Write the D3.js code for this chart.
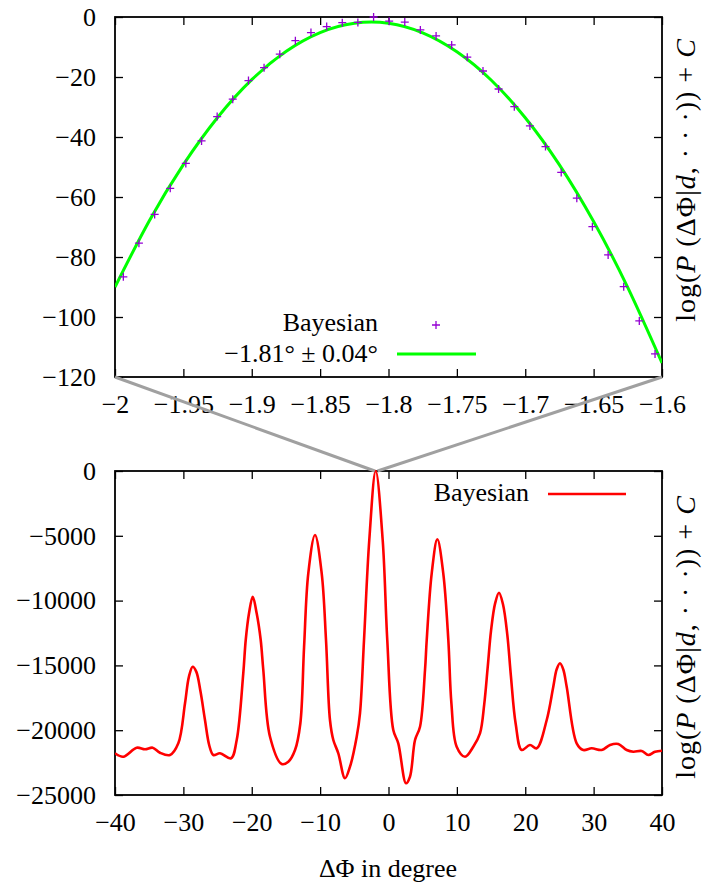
<!DOCTYPE html>
<html>
<head>
<meta charset="utf-8">
<script src="https://cdn.jsdelivr.net/npm/d3@7"></script>
<style>
  body { margin: 0; background: #fff; }
  text { font-family: "Liberation Serif", serif; font-size: 26px; fill: #000; }
</style>
</head>
<body>
<svg id="chart" width="704" height="886"></svg>
<script>
// zoomed panel: Bayesian points
var zoomPointX = [-1.9939, -1.9825, -1.9710, -1.9596, -1.9482, -1.9367, -1.9253, -1.9139, -1.9024,
    -1.8910, -1.8795, -1.8681, -1.8567, -1.8452, -1.8338, -1.8224, -1.8109, -1.7995, -1.7881,
    -1.7767, -1.7652, -1.7538, -1.7424, -1.7309, -1.7195, -1.7080, -1.6966, -1.6852, -1.6737,
    -1.6623, -1.6509, -1.6394, -1.6280, -1.6166, -1.6051];
var zoomPointY = [-86.6, -75.4, -65.8, -57.1, -48.8, -41.3, -33.2, -27.4, -21.2,
    -16.9, -12.4, -7.9, -5.2, -3.2, -1.9, -1.8, 0, -1.4, -1.7,
    -4.3, -6.3, -9.3, -13.4, -18.0, -24.0, -29.9, -36.3, -43.2, -51.8,
    -60.4, -69.9, -79.3, -89.9, -101.3, -112.3];

// zoomed panel: fitted curve
var fitX = [-2.0, -1.975, -1.95, -1.925, -1.9, -1.875, -1.85, -1.825, -1.8, -1.775, -1.75,
    -1.725, -1.7, -1.675, -1.65, -1.625, -1.6];
var fitY = [-90.0, -68.0, -49.2, -33.5, -20.9, -11.5, -5.2, -2.1, -2.1, -5.3, -11.6,
    -21.0, -33.6, -49.3, -68.2, -90.2, -115.3];

// full panel: Bayesian curve
var fullX = [-40.00, -38.79, -36.83, -35.61, -34.49, -33.42, -31.96, -30.74, -29.76, -29.2, -28.64,
    -28.1, -27.5, -26.84, -26.2, -25.62, -24.64, -23.03, -22.20, -21.24, -20.88, -20.40, -19.86, -19.28,
    -18.69, -18.31, -17.33, -15.62, -14.65, -13.67, -12.9, -12.35, -11.73, -10.75, -9.77, -9.14,
    -8.56, -8.07, -7.34, -6.36, -5.63, -4.65, -4.17, -3.58, -2.81, -1.87, -0.85, -0.18, 0.70,
    1.43, 2.56, 3.14, 3.88, 4.61, 5.34, 5.59, 6.32, 7.14, 8.01, 8.75, 9.2, 9.97, 11.19, 12.40,
    13.38, 14.0, 14.5, 15.0, 15.6, 16.16, 16.75, 17.37, 17.9, 18.6, 19.48, 20.69, 21.67, 23.14, 24.10,
    24.6, 25.08, 25.55, 26.06, 27.52, 28.49, 29.72, 31.18, 32.40, 33.61, 34.84, 35.80, 37.03, 38.00, 38.98, 40.00];
var fullY = [-21782, -22045, -21350, -21474, -21350, -21736, -21913, -21011, -17924, -15900, -15100,
    -15500, -17000, -19213, -21200, -21913, -21782, -22168, -20756, -15610, -13040, -10980, -9699, -10980,
    -13040, -15355, -20502, -22608, -22430, -21528, -19500, -13600, -7894, -4938, -7894, -13040,
    -19213, -20756, -21782, -23711, -22816, -20502, -18696, -13040, -5324, 0, -5324, -13040, -19985,
    -21011, -24097, -23588, -20756, -19730, -15355, -13040, -7894, -5270, -7894, -13040, -17924, -21273, -22045, -21273,
    -20239, -18000, -15200, -12300, -10200, -9390, -10300, -12600, -15800, -19500, -21528, -21142, -21397, -19213, -16643,
    -15300, -14838, -15300, -16643, -21011, -21528, -21397, -21528, -21142, -21065, -21528, -21659, -21605, -21913, -21659, -21582];

var zoomXTicks = [-2, -1.95, -1.9, -1.85, -1.8, -1.75, -1.7, -1.65, -1.6];
var zoomYTicks = [0, -20, -40, -60, -80, -100, -120];
var fullXTicks = [-40, -30, -20, -10, 0, 10, 20, 30, 40];
var fullYTicks = [0, -5000, -10000, -15000, -20000, -25000];
var zoomLegend = ["Bayesian", "\u22121.81\u00b0 \u00b1 0.04\u00b0"];
var fullLegend = "Bayesian";
var xTitle = "\u0394\u03a6 in degree";

var svg = d3.select("#chart");
var left = 115, right = 662;
var serif = "'Liberation Serif', serif";

var zoomBox = { top: 17, bottom: 377 };
var fullBox = { top: 471, bottom: 795 };

var zx = d3.scaleLinear().domain([-2, -1.6]).range([left, right]);
var zy = d3.scaleLinear().domain([-120, 0]).range([zoomBox.bottom, zoomBox.top]);
var fx = d3.scaleLinear().domain([-40, 40]).range([left, right]);
var fy = d3.scaleLinear().domain([-25000, 0]).range([fullBox.bottom, fullBox.top]);

var fmt = d3.format("");

function drawFrame(x, y, xTicks, yTicks, box) {
    var g = svg.append("g");
    g.append("g")
        .attr("transform", `translate(0,${box.bottom})`)
        .call(d3.axisBottom(x).tickValues(xTicks).tickSize(-8).tickPadding(18).tickFormat(fmt));
    g.append("g")
        .attr("transform", `translate(0,${box.top})`)
        .call(d3.axisTop(x).tickValues(xTicks).tickSize(-8).tickFormat(""));
    g.append("g")
        .attr("transform", `translate(${left},0)`)
        .call(d3.axisLeft(y).tickValues(yTicks).tickSize(-8).tickPadding(19).tickFormat(fmt));
    g.append("g")
        .attr("transform", `translate(${right},0)`)
        .call(d3.axisRight(y).tickValues(yTicks).tickSize(-8).tickFormat(""));
    g.selectAll(".domain").remove();
    g.selectAll(".tick line").attr("stroke", "#000").attr("stroke-width", 1.3);
    g.selectAll(".tick text").style("font-family", serif).style("font-size", "26px");
    g.append("rect")
        .attr("x", left).attr("y", box.top)
        .attr("width", right - left).attr("height", box.bottom - box.top)
        .attr("fill", "none").attr("stroke", "#000").attr("stroke-width", 1.8);
    return g;
}

drawFrame(zx, zy, zoomXTicks, zoomYTicks, zoomBox);
drawFrame(fx, fy, fullXTicks, fullYTicks, fullBox);

svg.append("clipPath").attr("id", "clipZoom").append("rect")
    .attr("x", left).attr("y", zoomBox.top).attr("width", right - left).attr("height", zoomBox.bottom - zoomBox.top);
svg.append("clipPath").attr("id", "clipFull").append("rect")
    .attr("x", left).attr("y", fullBox.top - 2).attr("width", right - left).attr("height", fullBox.bottom - fullBox.top + 2);

// fit line
var fitLine = d3.line()
    .x((d, i) => zx(fitX[i]))
    .y((d, i) => zy(fitY[i]))
    .curve(d3.curveNatural);
svg.append("path")
    .datum(fitX)
    .attr("clip-path", "url(#clipZoom)")
    .attr("d", fitLine)
    .attr("fill", "none")
    .attr("stroke", "#00ff00")
    .attr("stroke-width", 3);

// Bayesian points as plus marks
var plus = (cx, cy) => `M${cx - 4},${cy}H${cx + 4}M${cx},${cy - 4}V${cy + 4}`;
svg.append("g")
    .selectAll("path")
    .data(zoomPointX)
    .join("path")
    .attr("d", (d, i) => plus(zx(d), zy(zoomPointY[i])))
    .attr("stroke", "#9400d3")
    .attr("stroke-width", 1.3)
    .attr("fill", "none");

// full curve
var fullLine = d3.line()
    .x((d, i) => fx(fullX[i]))
    .y((d, i) => fy(fullY[i]))
    .curve(d3.curveCatmullRom.alpha(0.5));
svg.append("path")
    .datum(fullX)
    .attr("clip-path", "url(#clipFull)")
    .attr("d", fullLine)
    .attr("fill", "none")
    .attr("stroke", "#ff0000")
    .attr("stroke-width", 2.6);

// zoom connector lines
svg.append("g")
    .selectAll("line")
    .data([-2, -1.6])
    .join("line")
    .attr("x1", d => zx(d))
    .attr("y1", zy(-120))
    .attr("x2", d => fx(d))
    .attr("y2", fy(0))
    .attr("stroke", "#a0a0a0")
    .attr("stroke-width", 3);

// legend, zoom panel
svg.append("text").attr("x", 378).attr("y", 331).attr("text-anchor", "end").text(zoomLegend[0]);
svg.append("path").attr("d", plus(436, 325)).attr("stroke", "#9400d3").attr("stroke-width", 1.3);
svg.append("text").attr("x", 378).attr("y", 362).attr("text-anchor", "end").text(zoomLegend[1]);
svg.append("line").attr("x1", 397).attr("x2", 476).attr("y1", 354).attr("y2", 354)
    .attr("stroke", "#00ff00").attr("stroke-width", 3);

// legend, full panel
svg.append("text").attr("x", 529).attr("y", 501).attr("text-anchor", "end").text(fullLegend);
svg.append("line").attr("x1", 548).attr("x2", 626).attr("y1", 494).attr("y2", 494)
    .attr("stroke", "#ff0000").attr("stroke-width", 2.6);

// x title
svg.append("text").attr("x", 388).attr("y", 877).attr("text-anchor", "middle").text(xTitle);

// right side y titles
function yTitle(cy) {
    var t = svg.append("text")
        .attr("transform", `translate(695,${cy}) rotate(-90)`)
        .attr("text-anchor", "middle")
        .style("font-size", "28px")
        .style("letter-spacing", "1px");
    t.append("tspan").text("log(");
    t.append("tspan").attr("font-style", "italic").text("P");
    t.append("tspan").text(" (\u0394\u03a6|");
    t.append("tspan").attr("font-style", "italic").text("d");
    t.append("tspan").text(", \u00b7 \u00b7 \u00b7)) + ");
    t.append("tspan").attr("font-style", "italic").text("C");
}
yTitle(180);
yTitle(637);
</script>
</body>
</html>
